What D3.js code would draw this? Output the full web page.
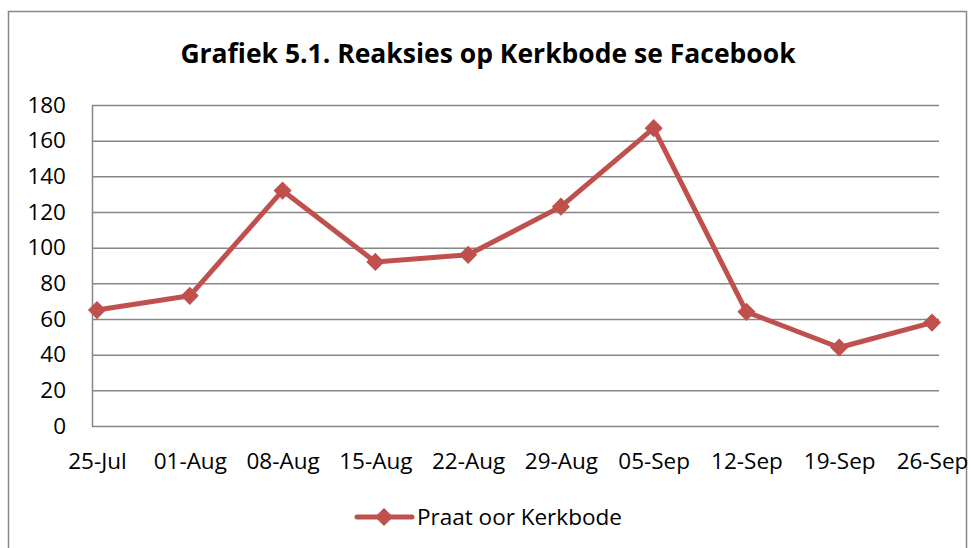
<html>
<script src="https://d3js.org/d3.v7.min.js"></script>
<body style="margin:0;background:white">
<svg width="971" height="548"></svg>
<script>
var dates = ["25-Jul", "01-Aug", "08-Aug", "15-Aug", "22-Aug", "29-Aug", "05-Sep", "12-Sep", "19-Sep", "26-Sep"];
var reactions = [65, 73, 132, 92, 96, 123, 167, 64, 44, 58];
var yTicks = [0, 20, 40, 60, 80, 100, 120, 140, 160, 180];
var seriesName = "Praat oor Kerkbode";

var svg = d3.select("svg");
var red = "#c0504d";
var grey = "#868686";
var font = "'Open Sans', 'Noto Sans', sans-serif";

// outer frame
svg.append("rect")
    .attr("x", 8.5).attr("y", 11.5)
    .attr("width", 958).attr("height", 560)
    .attr("fill", "white").attr("stroke", grey).attr("stroke-width", 1.5);

svg.append("text")
    .attr("x", 488).attr("y", 63)
    .attr("text-anchor", "middle")
    .style("font-family", font)
    .style("font-weight", "bold")
    .style("font-size", "26.5px")
    .text("Grafiek 5.1. Reaksies op Kerkbode se Facebook");

var plotLeft = 92, plotRight = 939, plotTop = 105, plotBottom = 426;
var x = d3.scalePoint().domain(dates).range([97, 932]);
var y = d3.scaleLinear().domain([0, 180]).range([plotBottom, plotTop]);

// gridlines
svg.append("g").selectAll("line").data(yTicks)
    .enter().append("line")
        .attr("x1", plotLeft).attr("x2", plotRight)
        .attr("y1", function(d) {return y(d) + 0.5;})
        .attr("y2", function(d) {return y(d) + 0.5;})
        .attr("stroke", grey).attr("stroke-width", 1.5);

svg.append("line")
    .attr("x1", plotLeft + 0.5).attr("x2", plotLeft + 0.5)
    .attr("y1", plotTop).attr("y2", plotBottom + 0.5)
    .attr("stroke", grey).attr("stroke-width", 1.5);

var yAxis = svg.append("g")
    .attr("transform", "translate(66,0)")
    .call(d3.axisLeft(y).tickValues(yTicks).tickSize(0).tickPadding(0));
yAxis.select(".domain").remove();
yAxis.selectAll("text")
    .style("font-family", font).style("font-size", "22.5px").attr("fill", "black");

var xAxis = svg.append("g")
    .attr("transform", "translate(0," + (plotBottom + 27) + ")")
    .call(d3.axisBottom(x).tickSize(0).tickPadding(0));
xAxis.select(".domain").remove();
xAxis.selectAll("text")
    .style("font-family", font).style("font-size", "22.5px").attr("fill", "black");

var line = d3.line()
    .x(function(d, i) {return x(dates[i]);})
    .y(function(d) {return y(d);});

svg.append("path")
    .datum(reactions)
    .attr("d", line)
    .attr("fill", "none")
    .attr("stroke", red)
    .attr("stroke-width", 5)
    .attr("stroke-linejoin", "round");

var diamond = d3.symbol().type(d3.symbolDiamond2).size(210);
svg.append("g").selectAll("path").data(reactions)
    .enter().append("path")
        .attr("d", diamond)
        .attr("transform", function(d, i) {return "translate(" + x(dates[i]) + "," + y(d) + ")";})
        .attr("fill", red);

// legend
var legend = svg.append("g").attr("transform", "translate(357,517)");
legend.append("line")
    .attr("x1", 0).attr("x2", 55)
    .attr("stroke", red).attr("stroke-width", 5).attr("stroke-linecap", "round");
legend.append("path")
    .attr("d", diamond)
    .attr("transform", "translate(27,0)")
    .attr("fill", red);
legend.append("text")
    .attr("x", 60).attr("y", 8)
    .style("font-family", font).style("font-size", "22.5px")
    .text(seriesName);
</script>
</body>
</html>
